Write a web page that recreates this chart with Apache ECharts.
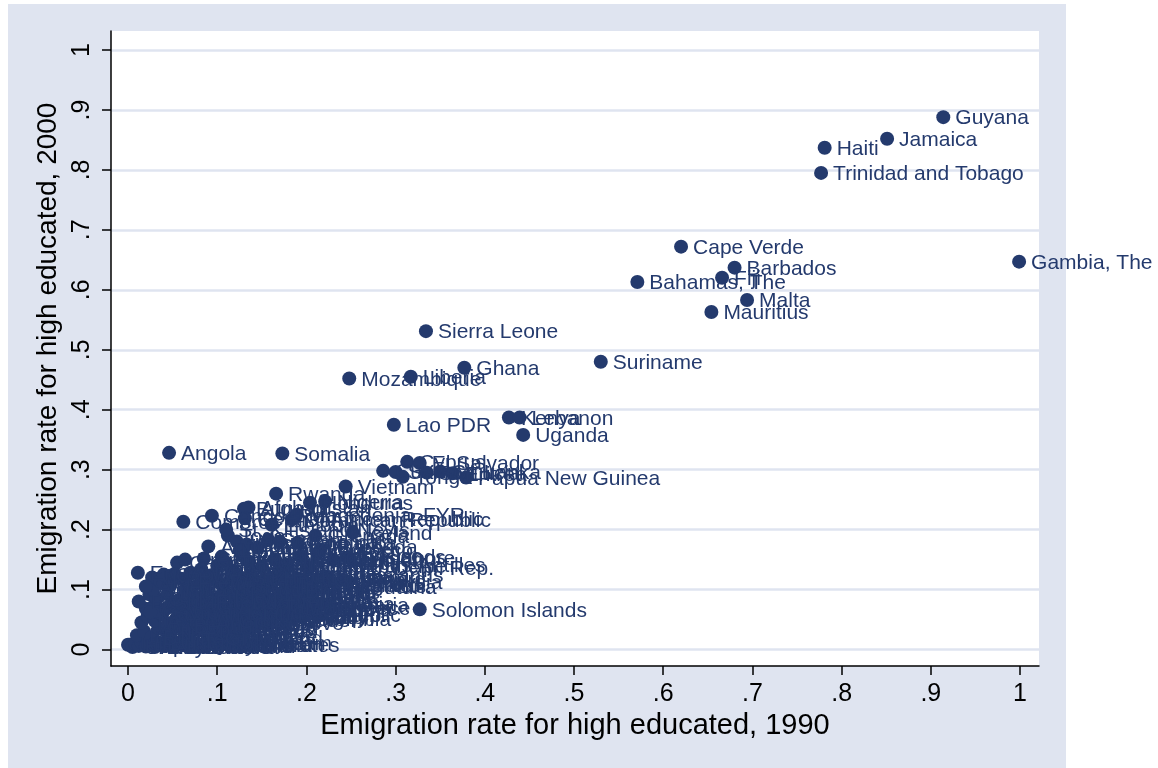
<!DOCTYPE html>
<html><head><meta charset="utf-8">
<script src="https://cdn.jsdelivr.net/npm/echarts@6/dist/echarts.min.js"></script>
<style>html,body{margin:0;padding:0;background:#fff}#c{width:1158px;height:768px}</style>
</head><body><div id="c"></div><script>
const tickValues = [0, 0.1, 0.2, 0.3, 0.4, 0.5, 0.6, 0.7, 0.8, 0.9, 1];
const tickLabels = ['0', '.1', '.2', '.3', '.4', '.5', '.6', '.7', '.8', '.9', '1'];

const countries = [
 'Guyana','Jamaica','Haiti','Trinidad and Tobago','Gambia, The','Cape Verde','Barbados','Fiji','Bahamas, The','Malta',
 'Mauritius','Sierra Leone','Suriname','Ghana','Liberia','Mozambique','Kenya','Lebanon','Uganda','Lao PDR',
 'Angola','Somalia','Cyprus','El Salvador','Cuba','Samoa','Tonga','St. Lucia','Sri Lanka','Eritrea',
 'Papua New Guinea','Vietnam','Rwanda','Honduras','Nigeria','Afghanistan','Burundi','Central African Republic','Dominican Republic','Comoros',
 'Congo, Rep.','Ethiopia','Macedonia, FYR','Iceland','Togo','Ireland','Benin','Sudan','Guatemala','Cameroon',
 'Guinea-Bissau','Mauritania','Equatorial Guinea','Madagascar','Algeria','Mali','Congo, Dem. Rep.','Malaysia','Solomon Islands','Morocco',
 'Singapore','Syrian Arab Republic','Kyrgyz Republic','Bulgaria','Venezuela, RB','United Arab Emirates',
 // row A
 'Russian Federation','United States','Saudi Arabia','Japan','Brunei Darussalam','Kuwait','Bahrain','Libya','Brazil','Australia',
 'Canada','Botswana','Namibia','Swaziland','Oman','Qatar','Thailand','Mongolia','Myanmar','China','India',
 // row B
 'Indonesia','Argentina','Burkina Faso','Uzbekistan','Tajikistan','Niger','Chad','Lesotho','Paraguay','Ukraine',
 'Belarus','Georgia','Peru','Iraq','Nauru',
 // row C
 'Turkmenistan','Kazakhstan','Azerbaijan','Bangladesh','Yemen, Rep.','Pakistan','Jordan','Armenia','Egypt, Arab Rep.','Tunisia',
 'Iran, Islamic Rep.','Mexico','Moldova','Chile','Bolivia','Panama','Ecuador','Uruguay','Colombia','Spain',
 'Italy','Greece',
 // row D
 'United Kingdom','Germany','Sweden','Norway','Denmark','Finland','Netherlands','Belgium','Austria','France',
 'Israel','Switzerland','Poland','Hungary','Romania','Latvia','Lithuania','Estonia','Czech Republic','Slovak Republic',
 // row E
 'Gabon','Djibouti','Guinea',"Cote d'Ivoire",'Zambia','Malawi','Tanzania','Zimbabwe','South Africa','Senegal',
 'Cambodia','Nepal','Maldives','Croatia','Palau','Timor-Leste','Bosnia and Herzegovina',
 // row F
 'Serbia and Montenegro','Belize','Kiribati','Vanuatu','Marshall Islands','Micronesia, Fed. Sts.','Korea, Dem. Rep.','Nicaragua','Tuvalu','Portugal',
 'Korea, Rep.','New Zealand','Luxembourg','Slovenia','Aruba','Hong Kong, China','Macao, China','New Caledonia',
 // row G
 'Seychelles','Sao Tome and Principe','Andorra','Liechtenstein','Monaco','San Marino','Netherlands Antilles','Puerto Rico','Guam','Reunion',
 'Martinique','Guadeloupe','French Polynesia','Antigua and Barbuda','Dominica','Grenada','St. Kitts and Nevis',
 // core fill
 'Niue','Tokelau','Greenland','Mayotte','Bermuda','Anguilla','Gibraltar','Serbia','Kosovo','Cayman Islands',
 'Montserrat','Faeroe Islands','Isle of Man','Montenegro','Taiwan','American Samoa','Cook Islands','French Guiana','West Bank and Gaza','Western Sahara',
 'St. Helena','Wallis and Futuna','Falkland Islands','Turks and Caicos','British Virgin Islands','Bhutan'
];

const rate1990 = [
 0.914,0.851,0.781,0.777,0.999,0.620,0.680,0.666,0.571,0.694,
 0.654,0.334,0.530,0.377,0.317,0.248,0.427,0.439,0.443,0.298,
 0.046,0.173,0.313,0.327,0.286,0.300,0.308,0.335,0.350,0.364,
 0.379,0.244,0.166,0.204,0.221,0.135,0.130,0.131,0.184,0.062,
 0.094,0.161,0.189,0.252,0.112,0.122,0.133,0.157,0.170,0.055,
 0.085,0.105,0.011,0.027,0.024,0.070,0.202,0.246,0.327,0.216,
 0.246,0.071,0.087,0.215,0.040,0.000,
 0.002,0.005,0.008,0.012,0.015,0.020,0.024,0.030,0.034,0.040,
 0.046,0.052,0.058,0.064,0.070,0.076,0.084,0.090,0.098,0.110,0.122,
 0.010,0.018,0.026,0.034,0.048,0.056,0.064,0.072,0.080,0.088,
 0.096,0.106,0.116,0.126,0.136,
 0.015,0.022,0.030,0.038,0.046,0.054,0.062,0.070,0.078,0.086,
 0.094,0.102,0.112,0.122,0.132,0.144,0.156,0.168,0.182,0.196,
 0.212,0.226,
 0.020,0.030,0.040,0.050,0.060,0.070,0.080,0.090,0.100,0.110,
 0.120,0.130,0.142,0.154,0.166,0.178,0.190,0.204,0.034,0.044,
 0.032,0.044,0.056,0.066,0.076,0.098,0.108,0.118,0.128,0.140,
 0.152,0.164,0.176,0.190,0.204,0.028,0.012,
 0.048,0.060,0.072,0.084,0.094,0.106,0.116,0.128,0.138,0.150,
 0.162,0.176,0.190,0.206,0.222,0.052,0.036,0.040,
 0.082,0.100,0.118,0.136,0.150,0.164,0.178,0.194,0.212,0.230,
 0.125,0.145,0.064,0.090,0.190,0.210,0.110,
 0.045,0.070,0.095,0.115,0.060,0.085,0.110,0.130,0.150,0.025,
 0.065,0.085,0.105,0.135,0.160,0.020,0.040,0.065,0.080,0.100,
 0.125,0.145,0.170,0.110,0.130,0.185
];

const rate2000 = [
 0.888,0.852,0.837,0.795,0.647,0.672,0.637,0.620,0.613,0.583,
 0.563,0.531,0.480,0.470,0.455,0.452,0.387,0.387,0.358,0.375,
 0.328,0.327,0.313,0.311,0.298,0.296,0.288,0.295,0.297,0.294,
 0.287,0.272,0.260,0.245,0.247,0.237,0.235,0.219,0.217,0.213,
 0.223,0.208,0.225,0.195,0.190,0.180,0.175,0.183,0.180,0.145,
 0.152,0.155,0.128,0.120,0.092,0.128,0.137,0.113,0.067,0.167,
 0.153,0.058,0.098,0.075,0.033,0.008,
 0.008,0.004,0.010,0.006,0.012,0.005,0.009,0.004,0.011,0.006,
 0.010,0.005,0.012,0.007,0.004,0.010,0.006,0.012,0.008,0.010,0.014,
 0.024,0.030,0.020,0.036,0.026,0.038,0.022,0.032,0.040,0.026,
 0.036,0.030,0.040,0.028,0.036,
 0.045,0.055,0.048,0.058,0.044,0.052,0.060,0.046,0.055,0.050,
 0.058,0.046,0.054,0.060,0.048,0.056,0.050,0.058,0.052,0.060,
 0.055,0.070,
 0.068,0.075,0.065,0.072,0.078,0.066,0.074,0.068,0.078,0.070,
 0.076,0.066,0.074,0.068,0.078,0.070,0.076,0.068,0.062,0.070,
 0.085,0.092,0.082,0.095,0.086,0.084,0.096,0.088,0.098,0.086,
 0.094,0.084,0.096,0.088,0.096,0.100,0.080,
 0.108,0.118,0.104,0.112,0.122,0.106,0.116,0.108,0.124,0.112,
 0.120,0.108,0.118,0.110,0.122,0.126,0.114,0.110,
 0.134,0.140,0.132,0.146,0.138,0.150,0.142,0.156,0.160,0.150,
 0.165,0.170,0.150,0.172,0.178,0.190,0.200,
 0.018,0.016,0.020,0.022,0.040,0.045,0.048,0.040,0.045,0.062,
 0.085,0.080,0.088,0.080,0.072,0.105,0.125,0.112,0.125,0.115,
 0.120,0.105,0.125,0.145,0.155,0.098
];

const font = '"Liberation Sans", Arial, Helvetica, sans-serif';
const navy = '#243a6d';
const bgGray = '#dfe4f0';
const fmt = v => { const i = tickValues.findIndex(t => Math.abs(t - v) < 1e-9); return i >= 0 ? tickLabels[i] : ''; };
const points = countries.map((n, i) => ({ name: n, value: [rate1990[i], rate2000[i]] }));

const chart = echarts.init(document.getElementById('c'), null, { renderer: 'canvas' });
chart.setOption({
  animation: false,
  backgroundColor: '#ffffff',
  graphic: [{ type: 'rect', z: -100, silent: true, shape: { x: 8, y: 4, width: 1058, height: 764 }, style: { fill: bgGray } }],
  grid: { left: 111, top: 31, width: 928, height: 635, show: true, backgroundColor: '#ffffff', borderWidth: 0 },
  xAxis: {
    type: 'value', min: -0.0191, max: 1.0213,
    name: 'Emigration rate for high educated, 1990', nameLocation: 'middle', nameGap: 45,
    nameTextStyle: { fontFamily: font, fontSize: 29, color: '#000' },
    axisLine: { show: true, onZero: false, lineStyle: { color: '#000', width: 1.5 } },
    axisTick: { show: true, customValues: tickValues, length: 9, lineStyle: { color: '#000', width: 1.5 } },
    axisLabel: { customValues: tickValues, formatter: fmt, margin: 16, fontFamily: font, fontSize: 25, color: '#000' },
    splitLine: { show: false }
  },
  yAxis: {
    type: 'value', min: -0.0275, max: 1.0317,
    name: 'Emigration rate for high educated, 2000', nameLocation: 'middle', nameGap: 45,
    nameTextStyle: { fontFamily: font, fontSize: 28, color: '#000' },
    axisLine: { show: true, onZero: false, lineStyle: { color: '#000', width: 1.5 } },
    axisTick: { show: true, customValues: tickValues, length: 9, lineStyle: { color: '#000', width: 1.5 } },
    axisLabel: { customValues: tickValues, formatter: fmt, rotate: 90, margin: 16, fontFamily: font, fontSize: 25, color: '#000' },
    splitLine: { show: true, lineStyle: { color: bgGray, width: 2.5 } }
  },
  series: [{
    type: 'scatter', data: points, symbol: 'circle', symbolSize: 14, clip: false,
    itemStyle: { color: navy, opacity: 1 },
    label: { show: true, position: 'right', distance: 5, offset: [0, 1.5], formatter: '{b}', color: navy, fontFamily: font, fontSize: 21 },
    emphasis: { disabled: true }
  }]
});
</script></body></html>
